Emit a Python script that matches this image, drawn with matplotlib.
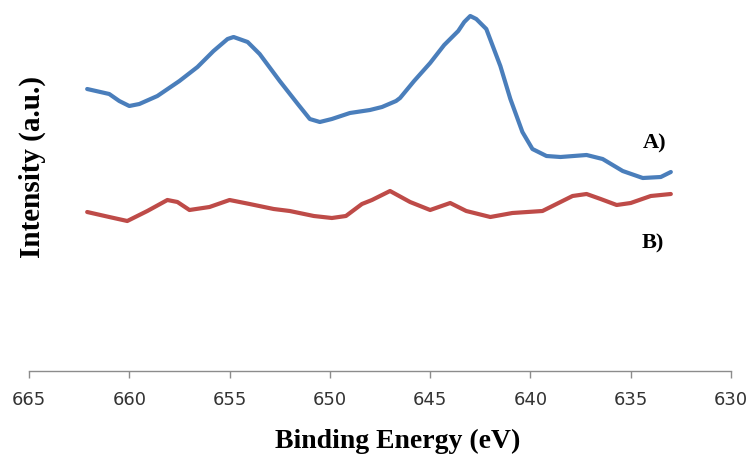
import matplotlib
matplotlib.use("Agg")
import matplotlib.pyplot as plt

# Binding energy (eV) and intensity (a.u.)
energy_a = [662.1, 661.0, 660.5, 660.0, 659.5, 658.6, 657.5, 656.6, 655.8, 655.1,
            654.8, 654.1, 653.5, 652.5, 651.6, 651.0, 650.5, 649.9, 649.0, 648.0,
            647.4, 646.7, 646.5, 645.8, 645.0, 644.3, 643.6, 643.3, 643.0, 642.7,
            642.2, 641.5, 641.0, 640.4, 639.9, 639.2, 638.5, 637.2, 636.4, 635.4,
            634.4, 633.5, 633.0]
intensity_a = [282, 277, 270, 265, 267, 275, 290, 304, 320, 332,
               334, 329, 317, 290, 267, 252, 249, 252, 258, 261,
               264, 270, 273, 290, 308, 326, 340, 349, 355, 352,
               342, 305, 272, 239, 222, 215, 214, 216, 212, 200,
               193, 194, 199]

energy_b = [662.1, 661.0, 660.1, 659.1, 658.1, 657.6, 657.0, 656.0, 655.0, 654.0,
            652.8, 652.0, 650.8, 649.9, 649.2, 648.4, 647.9, 647.5, 647.0, 646.0,
            645.0, 644.0, 643.2, 642.0, 640.9, 639.4, 638.7, 637.9, 637.2, 636.5,
            635.7, 635.0, 634.0, 633.0]
intensity_b = [159, 154, 150, 160, 171, 169, 161, 164, 171, 167,
               162, 160, 155, 153, 155, 167, 171, 175, 180, 169,
               161, 168, 160, 154, 158, 160, 167, 175, 177, 172,
               166, 168, 175, 177]

xticks = [665, 660, 655, 650, 645, 640, 635, 630]
label_a = "A)"
label_b = "B)"

W, H, DPI = 755, 460, 100
fig = plt.figure(figsize=(W / DPI, H / DPI), dpi=DPI)
left, right, bottom, top = 29, 731, 372, 10
ax = fig.add_axes([left / W, 1 - bottom / H, (right - left) / W, (bottom - top) / H])

ax.plot(energy_a, intensity_a, color="#4a7ebb", lw=3.0, solid_capstyle="round", solid_joinstyle="round")
ax.plot(energy_b, intensity_b, color="#be4b48", lw=3.0, solid_capstyle="round", solid_joinstyle="round")

ax.set_xlim(665, 630)
ax.set_ylim(0, 362)
ax.set_xticks(xticks)
ax.set_xticklabels([str(t) for t in xticks], fontsize=13, color="#333333", family="DejaVu Sans")
ax.set_yticks([])
for s in ["left", "right", "top"]:
    ax.spines[s].set_visible(False)
ax.spines["bottom"].set_color("#8c8c8c")
ax.spines["bottom"].set_linewidth(1.0)
ax.tick_params(axis="x", direction="out", length=5, width=1, color="#8c8c8c", pad=9)

serif = ["Liberation Serif", "DejaVu Serif"]
ax.text(633.8, 229, label_a, fontsize=16, fontweight="bold", family=serif, ha="center", va="center")
ax.text(633.9, 129, label_b, fontsize=16, fontweight="bold", family=serif, ha="center", va="center")

fig.text(398 / W, 1 - 448 / H, "Binding Energy (eV)", fontsize=20, fontweight="bold",
         family=serif, ha="center", va="baseline")
fig.text(40 / W, 1 - 167 / H, "Intensity (a.u.)", fontsize=21, fontweight="bold",
         family=serif, ha="center", va="baseline", rotation=90, rotation_mode="anchor")

fig.savefig("out.png", dpi=DPI)
